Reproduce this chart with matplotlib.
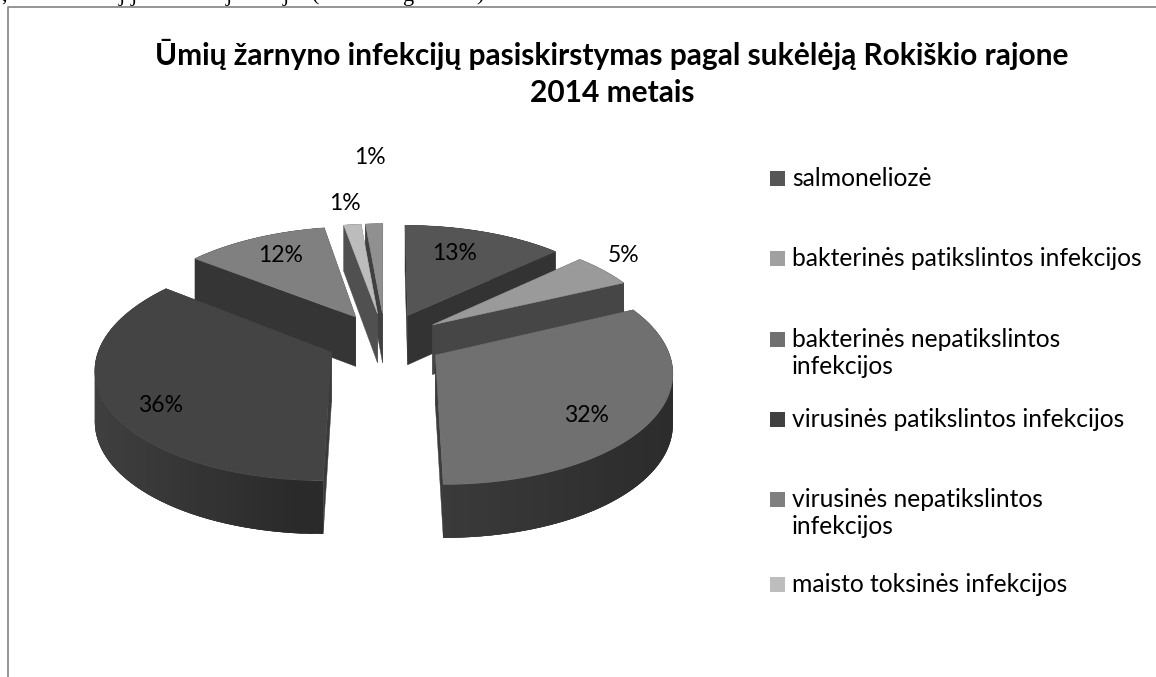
#!/usr/bin/env python3
# -*- coding: utf-8 -*-
import numpy as np
import matplotlib
matplotlib.use("Agg")
import matplotlib.pyplot as plt
from matplotlib.patches import Polygon, Rectangle

title = "Ūmių žarnyno infekcijų pasiskirstymas pagal sukėlėją Rokiškio rajone\n2014 metais"
legend_names = ["salmoneliozė", "bakterinės patikslintos infekcijos",
                "bakterinės nepatikslintos\ninfekcijos", "virusinės patikslintos infekcijos",
                "virusinės nepatikslintos\ninfekcijos", "maisto toksinės infekcijos"]
legend_colors = ["#565656", "#a0a0a0", "#707070", "#404040", "#7f7f7f", "#bdbdbd"]

# share of each slice, clockwise from 12 o'clock (two smallest ones are both shown as 1%)
values = [13, 5, 32, 35.6, 11.6, 1.4, 1.4]
top_colors = ["#555555", "#9a9a9a", "#707070", "#444444", "#808080", "#bcbcbc", "#909090"]
wall_left = ["#333333", "#464646", "#3c3c3c", "#404040", "#353535", "#505050", "#404040"]
wall_right = ["#333333", "#464646", "#2c2c2c", "#2a2a2a", "#353535", "#505050", "#404040"]
label_pos = [(455, 254), (624, 255), (586, 416), (161, 405), (281, 256), (345, 204), (370, 158)]

# page text above the chart, only the bottom of it is left in the crop
cut_text = [(",", 1), ("j", 119), ("j", 131), ("j", 226), ("j", 283), ("(", 312), ("g", 403), (")", 476)]

# projection of the tilted pie
cx, cy = 385, 340
R, Q = 230, 108
persp = 0.132
explode = 0.255


def project(X, Y):
    s = 1 / (1 + persp * Y)
    return cx + R * X * s, cy - Q * Y * s


def depth(Y):
    return 50 - 3 * Y


def gray(c):
    return int(c[1:3], 16)


plt.rcParams['font.family'] = ['Lato', 'DejaVu Sans']
fig = plt.figure(figsize=(11.56, 6.77), dpi=100)
ax = fig.add_axes([0, 0, 1, 1])
ax.set_xlim(0, 1156)
ax.set_ylim(677, 0)
ax.axis('off')

# frame of the chart, cut by the image on right and bottom
ax.plot([7.5, 7.5, 1156], [677, 6.5, 6.5], color='#8c8c8c', lw=1.3, solid_capstyle='butt')

for ch, x in cut_text:
    ax.text(x, 0.5, ch, family='Liberation Serif', fontsize=16, ha='left', va='baseline', color='black')

ax.text(612, 73, title, ha='center', va='center', fontsize=21.5, fontweight='bold',
        color='black', linespacing=1.36)

edges = np.concatenate([[0], np.cumsum(values)]) / sum(values) * 2 * np.pi
slices = []
for i in range(len(values)):
    mid = (edges[i] + edges[i + 1]) / 2
    slices.append((np.cos(mid), i, mid))

# painter's order, back of the pie first
for _, i, mid in sorted(slices, key=lambda t: -t[0]):
    ox, oy = explode * np.sin(mid), explode * np.cos(mid)
    t = np.linspace(edges[i], edges[i + 1], 60)
    RX, RY = ox + np.sin(t), oy + np.cos(t)
    px, py = project(RX, RY)
    ax_, ay_ = project(ox, oy)
    dr = depth(RY)
    da = depth(oy)

    # the two cut faces
    for k, ind in enumerate([0, -1]):
        q = [(ax_, ay_), (px[ind], py[ind]), (px[ind], py[ind] + dr[ind]), (ax_, ay_ + da)]
        c = wall_left[i] if i != 3 else '#3a3a3a'
        ax.add_patch(Polygon(q, closed=True, fc=c, ec=c, lw=0.3))

    # outer wall, strips overlap the next one so no seams show
    xmin, xmax = px.min(), px.max()
    g0, g1 = gray(wall_left[i]), gray(wall_right[i])
    order = np.argsort(px[:-1])
    for j in order:
        j2 = min(j + 3, len(t) - 1)
        q = [(px[j], py[j]), *zip(px[j + 1:j2 + 1], py[j + 1:j2 + 1]),
             *zip(px[j2:j:-1], py[j2:j:-1] + dr[j2:j:-1]), (px[j], py[j] + dr[j])]
        f = (px[j] - xmin) / max(xmax - xmin, 1)
        v = (g0 + (g1 - g0) * f) / 255
        ax.add_patch(Polygon(q, closed=True, fc=(v, v, v), ec='none'))

    top = np.column_stack([np.r_[ax_, px], np.r_[ay_, py]])
    ax.add_patch(Polygon(top, closed=True, fc=top_colors[i], ec=top_colors[i], lw=0.4))

for v, (x, y) in zip(values, label_pos):
    ax.text(x, y, f"{v:.0f}%", ha='center', va='center', fontsize=16.5, color='black')

# legend
legend_y = [178, 258, 339, 419, 499, 584]
for name, col, y in zip(legend_names, legend_colors, legend_y):
    ax.add_patch(Rectangle((770, y - 7), 15, 15, fc=col, ec='none'))
    ax.text(792, y - 11, name, ha='left', va='top', fontsize=17.7, color='black', linespacing=1.2)

fig.savefig('out.png', dpi=100)
